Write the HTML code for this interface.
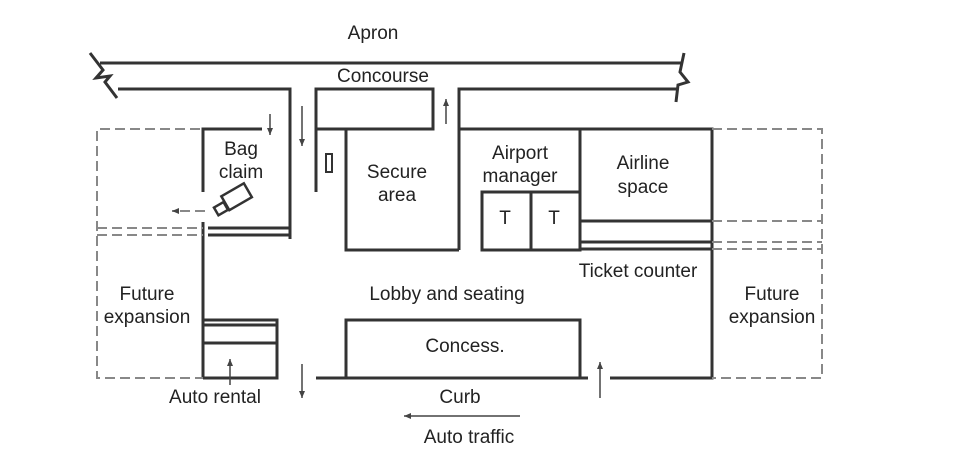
<!DOCTYPE html>
<html><head><meta charset="utf-8"><style>
html,body{margin:0;padding:0;background:#fff;}
svg{display:block;}
text{font-family:"Liberation Sans",sans-serif;font-size:19px;fill:#222;text-anchor:middle;}
</style></head><body>
<svg width="970" height="460" viewBox="0 0 970 460" xmlns="http://www.w3.org/2000/svg">
<defs>
<marker id="ah" markerWidth="8" markerHeight="8" refX="7" refY="4" orient="auto" markerUnits="userSpaceOnUse">
<path d="M0,1 L7,4 L0,7 Z" fill="#444"/></marker>
</defs>
<g stroke="#333" stroke-width="3" fill="none">
<path d="M100,63 H683"/>
<path d="M118,89 H290 V239"/>
<path d="M90,53 L103,70 L96,78 L110,76 L105,82 L117,98"/>
<path d="M684,53 L680,72 L688,82 L678,85 L676,102"/>
<path d="M316,192 V89 H433 V129 H316"/>
<path d="M346,129 V250 H459"/>
<path d="M677,89 H459 V250"/>
<path d="M459,129 H712 V378 H610"/>
<path d="M580,129 V250 H482 V192 H580"/>
<path d="M531,192 V250"/>
<path d="M580,221 H712 M580,242 H712 M580,249 H712"/>
<path d="M262,129 H203 V192"/>
<path d="M208,228 H290 M208,235 H290 M203,222 V378"/>
<path d="M203,320 H277 V378 H203 M203,325 H277 M203,343 H277"/>
<path d="M316,378 H588"/>
<path d="M346,378 V320 H580 V378"/>
</g>
<rect x="326" y="154" width="6" height="18" fill="none" stroke="#333" stroke-width="2"/>
<g stroke="#333" stroke-width="2.5" fill="none" transform="rotate(-30 235 200)">
<rect x="225" y="190" width="26" height="16"/>
<rect x="213" y="196" width="11" height="9"/>
</g>
<g stroke="#888" stroke-width="2" fill="none" stroke-dasharray="10,5">
<path d="M200,129 H97 V378 H203"/>
<path d="M97,228 H203 M97,235 H203"/>
<path d="M712,129 H822 V378 H712"/>
<path d="M712,221 H822 M712,242 H822 M712,249 H822"/>
<path d="M205,211 H172" marker-end="url(#ah)"/>
</g>
<g stroke="#444" stroke-width="1.5" fill="none" marker-end="url(#ah)">
<path d="M270,114 V135"/>
<path d="M302,106 V146"/>
<path d="M446,124 V99"/>
<path d="M302,364 V398"/>
<path d="M600,398 V362"/>
<path d="M230,385 V359"/>
<path d="M520,416 H404"/>
</g>
<text x="373" y="39">Apron</text>
<text x="383" y="82">Concourse</text>
<text x="241" y="155">Bag</text>
<text x="241" y="178">claim</text>
<text x="397" y="178">Secure</text>
<text x="397" y="201">area</text>
<text x="520" y="159">Airport</text>
<text x="520" y="182">manager</text>
<text x="505" y="224">T</text>
<text x="554" y="224">T</text>
<text x="643" y="169">Airline</text>
<text x="643" y="193">space</text>
<text x="638" y="277">Ticket counter</text>
<text x="147" y="300">Future</text>
<text x="147" y="323">expansion</text>
<text x="772" y="300">Future</text>
<text x="772" y="323">expansion</text>
<text x="447" y="300">Lobby and seating</text>
<text x="465" y="352">Concess.</text>
<text x="460" y="403">Curb</text>
<text x="215" y="403">Auto rental</text>
<text x="469" y="443">Auto traffic</text>
</svg>
</body></html>
